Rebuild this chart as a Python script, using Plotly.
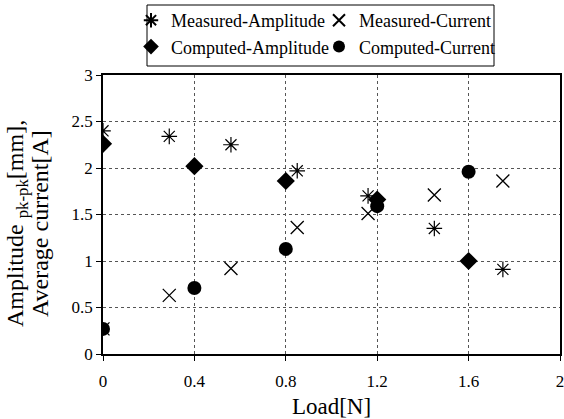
import plotly.graph_objects as go

# Data
ma_load = [0.0, 0.29, 0.56, 0.85, 1.16, 1.45, 1.75]
ma_amp = [2.40, 2.34, 2.25, 1.97, 1.70, 1.35, 0.91]

mc_load = [0.0, 0.29, 0.56, 0.85, 1.16, 1.45, 1.75]
mc_cur = [0.27, 0.63, 0.92, 1.36, 1.51, 1.71, 1.86]

ca_load = [0.0, 0.4, 0.8, 1.2, 1.6]
ca_amp = [2.26, 2.02, 1.86, 1.66, 1.00]

cc_load = [0.0, 0.4, 0.8, 1.2, 1.6]
cc_cur = [0.27, 0.71, 1.13, 1.59, 1.96]

x_ticks = [0, 0.4, 0.8, 1.2, 1.6, 2]
x_ticklabels = ["0", "0.4", "0.8", "1.2", "1.6", "2"]
y_ticks = [0, 0.5, 1, 1.5, 2, 2.5, 3]
y_ticklabels = ["0", "0.5", "1", "1.5", "2", "2.5", "3"]

FONT = "Liberation Serif, Times New Roman, serif"

# plot area in pixels
L, R, T, B = 103, 4, 75, 65
W, H = 564, 419
PW, PH = W - L - R, H - T - B


def px_x(p):
    return (p - L) / PW


def px_y(p):
    return (H - B - p) / PH


fig = go.Figure()
fig.add_trace(go.Scatter(
    x=ma_load, y=ma_amp, mode="markers", name="Measured-Amplitude",
    marker=dict(symbol="asterisk-open", size=13, color="black",
                line=dict(color="black", width=1.2))))
fig.add_trace(go.Scatter(
    x=mc_load, y=mc_cur, mode="markers", name="Measured-Current",
    marker=dict(symbol="x-thin-open", size=13, color="black",
                line=dict(color="black", width=1.3))))
fig.add_trace(go.Scatter(
    x=ca_load, y=ca_amp, mode="markers", name="Computed-Amplitude",
    marker=dict(symbol="diamond", size=14, color="black",
                line=dict(width=0))))
fig.add_trace(go.Scatter(
    x=cc_load, y=cc_cur, mode="markers", name="Computed-Current",
    marker=dict(symbol="circle", size=14, color="black",
                line=dict(width=0))))

axis_common = dict(
    showline=True, linecolor="black", linewidth=1.5, mirror=True,
    showgrid=True, gridcolor="#555555", gridwidth=1, griddash="3px,3px",
    ticks="outside", ticklen=5, tickcolor="black", tickwidth=1,
    zeroline=False, automargin=False,
    tickfont=dict(family=FONT, size=17, color="black"),
)

fig.update_xaxes(
    range=[0, 2], tickvals=x_ticks, ticktext=x_ticklabels,
    ticklabelstandoff=6, ticklabeloverflow="allow",
    title=dict(text="Load[N]", font=dict(family=FONT, size=23, color="black"),
               standoff=8),
    **axis_common)
fig.update_yaxes(
    range=[0, 3], tickvals=y_ticks, ticktext=y_ticklabels,
    ticklabelstandoff=0,
    **axis_common)

fig.add_annotation(
    text="Amplitude <sub>pk-pk</sub>[mm],", textangle=-90,
    xref="paper", yref="paper", x=px_x(17), y=px_y(224),
    xanchor="center", yanchor="middle", showarrow=False,
    font=dict(family=FONT, size=24, color="black"))
fig.add_annotation(
    text="Average current[A]", textangle=-90,
    xref="paper", yref="paper", x=px_x(40), y=px_y(224),
    xanchor="center", yanchor="middle", showarrow=False,
    font=dict(family=FONT, size=24, color="black"))

# legend frame
fig.add_shape(
    type="rect", xref="paper", yref="paper",
    x0=px_x(147), x1=px_x(494), y0=px_y(66), y1=px_y(5),
    line=dict(color="black", width=1), fillcolor="rgba(0,0,0,0)")

fig.update_layout(
    width=W, height=H,
    margin=dict(l=L, r=R, t=T, b=B, autoexpand=False),
    paper_bgcolor="white", plot_bgcolor="white",
    font=dict(family=FONT, size=17, color="black"),
    showlegend=True,
    legend=dict(
        orientation="h", x=px_x(131), y=px_y(2),
        xanchor="left", yanchor="top",
        borderwidth=0, bgcolor="rgba(0,0,0,0)",
        font=dict(family=FONT, size=18, color="black"),
        entrywidth=143, entrywidthmode="pixels",
        itemwidth=30, itemsizing="constant",
    ),
)

fig.write_html("out.html", config={"displayModeBar": False},
               post_script="document.body.style.margin='0';")
